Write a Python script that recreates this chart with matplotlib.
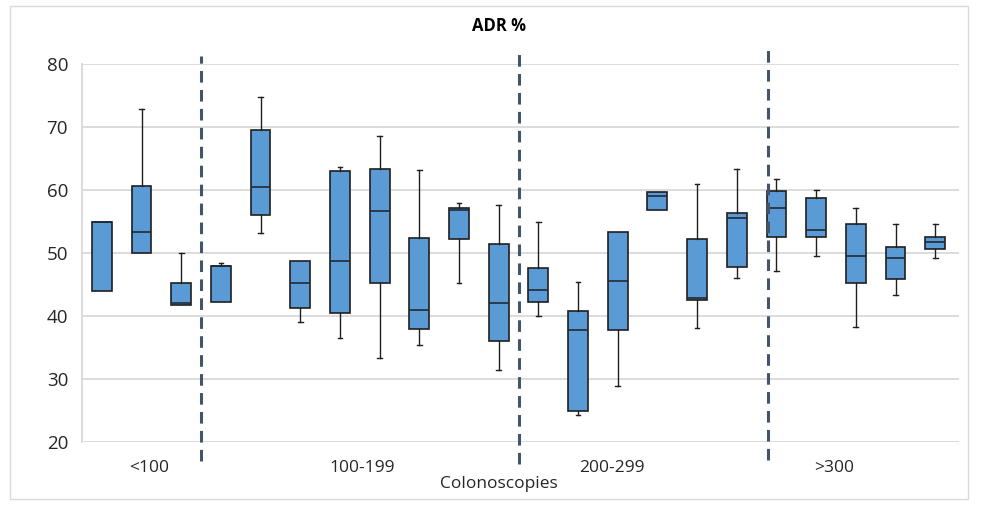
import matplotlib
matplotlib.use("Agg")
import matplotlib.pyplot as plt
from matplotlib.patches import Rectangle

plt.rcParams['font.family'] = ['Liberation Sans Narrow', 'Open Sans', 'DejaVu Sans']

# Box statistics (whisker low, Q1, median, Q3, whisker high)
whislo = [44.0, 50.0, 41.8, 42.2, 53.1, 39.0, 36.5, 33.4, 35.4, 45.2, 31.5,
          40.0, 24.3, 28.9, 56.8, 38.1, 46.0, 47.2, 49.6, 38.3, 43.3, 49.2]
q1     = [44.0, 50.0, 41.8, 42.2, 56.1, 41.3, 40.5, 45.3, 37.9, 52.2, 36.1,
          42.2, 25.0, 37.8, 56.8, 42.6, 47.8, 52.6, 52.6, 45.2, 45.9, 50.7]
med    = [55.0, 53.4, 42.1, 48.0, 60.5, 45.2, 48.7, 56.7, 41.0, 56.8, 42.1,
          44.2, 37.8, 45.6, 59.0, 42.9, 55.5, 57.1, 53.7, 49.5, 49.2, 51.8]
q3     = [55.0, 60.7, 45.2, 48.0, 69.5, 48.7, 63.0, 63.4, 52.4, 57.1, 51.4,
          47.6, 40.8, 53.4, 59.7, 52.2, 56.3, 59.9, 58.8, 54.6, 51.0, 52.6]
whishi = [55.0, 72.8, 50.0, 48.4, 74.7, 48.7, 63.7, 68.6, 63.1, 57.9, 57.6,
          55.0, 45.4, 53.4, 59.7, 60.9, 63.3, 61.8, 60.0, 57.1, 54.6, 54.6]

group_labels = ['<100', '100-199', '200-299', '>300']
group_label_pos = [2.2, 7.55, 13.85, 19.45]
separators = [3.5, 11.5, 17.78]
yticks = [20, 30, 40, 50, 60, 70, 80]

fig = plt.figure(figsize=(9.82, 5.05), dpi=100)
# outer border
fig.patches.append(Rectangle((10/982, 6/505), 958/982, 493/505, transform=fig.transFigure,
                             fill=False, edgecolor='#D9D9D9', linewidth=1.0))
ax = fig.add_axes([82/982, 63/505, 877/982, 378/505])

stats = []
for i in range(len(med)):
    stats.append(dict(whislo=whislo[i], q1=q1[i], med=med[i], q3=q3[i], whishi=whishi[i], fliers=[]))

positions = list(range(1, len(med) + 1))
art = ax.bxp(stats, positions=positions, widths=0.5, patch_artist=True, showfliers=False,
             capwidths=0.12,
             boxprops=dict(facecolor='#5B9BD5', edgecolor='#1F1F1F', linewidth=1.2),
             medianprops=dict(color='#1F2A36', linewidth=1.2),
             whiskerprops=dict(color='#1F1F1F', linewidth=1.0),
             capprops=dict(color='#1F1F1F', linewidth=1.0), zorder=3)

# hide caps where there is no whisker
for i in range(len(med)):
    if whislo[i] >= q1[i]:
        art['caps'][2 * i].set_visible(False)
    if whishi[i] <= q3[i]:
        art['caps'][2 * i + 1].set_visible(False)

ax.set_xlim(0.5, 22.6)
ax.set_ylim(20, 80)
ax.set_yticks(yticks)
ax.set_yticklabels([str(t) for t in yticks], fontsize=13.5, color='#262626')
ax.tick_params(axis='y', length=0, pad=10)
ax.set_xticks([])
ax.grid(axis='y', color='#D9D9D9', linewidth=1.3, zorder=0)
ax.set_axisbelow(True)
for s in ['top', 'right', 'bottom']:
    ax.spines[s].set_visible(False)
ax.spines['left'].set_color('#D9D9D9')
ax.spines['left'].set_linewidth(1.3)

tops = [81.3, 82.3, 82.7]
bots = [17.0, 16.5, 17.1]
for xs, t, b in zip(separators, tops, bots):
    ax.plot([xs, xs], [b, t], color='#44546A', linewidth=2.2, linestyle=(0, (3.8, 2.4)),
            clip_on=False, zorder=4)

for lab, p in zip(group_labels, group_label_pos):
    ax.text(p, 15.9, lab, ha='center', va='center', fontsize=12.5, color='#262626')
ax.text(11.0, 13.4, 'Colonoscopies', ha='center', va='center', fontsize=12.5, color='#262626')
ax.text(11.0, 86.0, 'ADR %', ha='center', va='center', fontsize=12, fontweight='bold', color='#000000')

fig.savefig('out.png', dpi=100)
